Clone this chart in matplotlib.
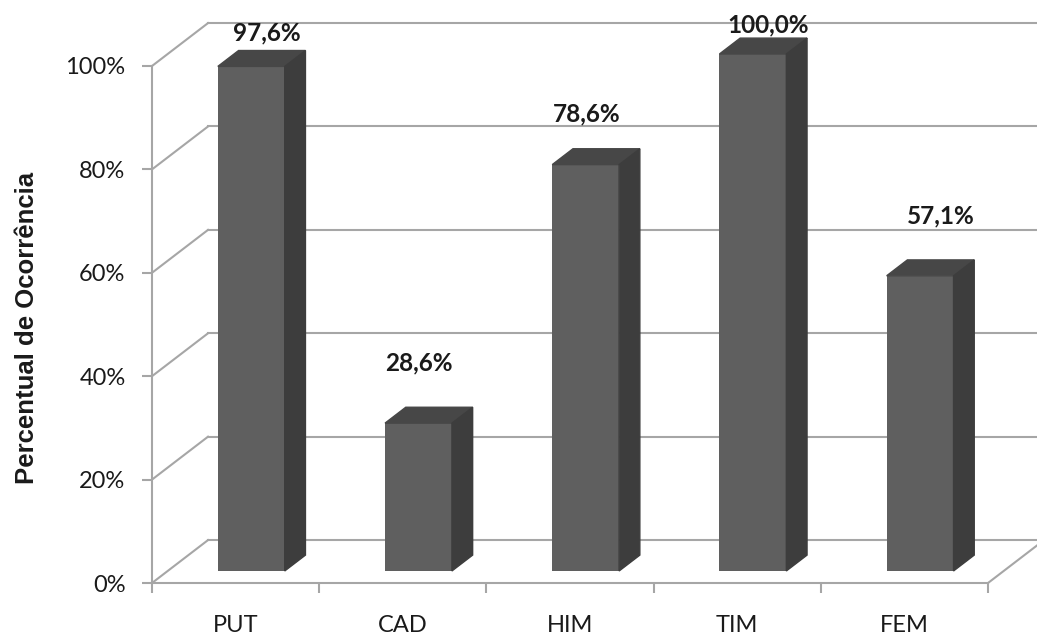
import matplotlib.pyplot as plt
from matplotlib.patches import Polygon

categories = ["PUT", "CAD", "HIM", "TIM", "FEM"]
values = [97.6, 28.6, 78.6, 100.0, 57.1]
value_labels = ["97,6%", "28,6%", "78,6%", "100,0%", "57,1%"]
y_ticks = [0, 20, 40, 60, 80, 100]
y_tick_labels = ["0%", "20%", "40%", "60%", "80%", "100%"]

# label placement relative to the centre of each bar's back top edge (pixels)
label_nudge = [(5, 18), (-10, 44), (-9, 35), (5, 13), (10, 44)]

# depth vector of the 3d box, in data units (categories, percent)
DX, DY = 0.335, 8.3
BAR_W = 0.4
BAR_FRONT = 0.28   # fraction of depth where the bar's front face sits
BAR_DEPTH = 0.37

GRID = "#a6a6a6"
FACE = "#5f5f5f"
TOP = "#474747"
SIDE = "#3d3d3d"
TXT = "#1a1a1a"

fig = plt.figure(figsize=(10.37, 6.37), dpi=100)
ax = fig.add_axes([152 / 1037, 54 / 637, 836 / 1037, 517 / 637])
ax.set_xlim(0, len(categories))
ax.set_ylim(0, 100)

n = len(categories)

# back wall gridlines and left wall diagonals
for t in y_ticks:
    ax.plot([DX, n + DX + 0.5], [t + DY, t + DY], color=GRID, lw=1.5,
            clip_on=False, zorder=1)
    ax.plot([0, DX], [t, t + DY], color=GRID, lw=1.5, clip_on=False, zorder=1)

# floor right edge
ax.plot([n, n + DX], [0, DY], color=GRID, lw=1.5, clip_on=False, zorder=1)

# bars: front face, top and side
ox, oy = BAR_FRONT * DX, BAR_FRONT * DY
bx, by = BAR_DEPTH * DX, BAR_DEPTH * DY
for i, v in enumerate(values):
    x0 = i + 0.5 - BAR_W / 2 + ox
    x1 = x0 + BAR_W
    ax.bar(x0, v, width=BAR_W, bottom=oy, align="edge", color=FACE,
           clip_on=False, zorder=3)
    top = Polygon([(x0, v + oy), (x1, v + oy), (x1 + bx, v + oy + by),
                   (x0 + bx, v + oy + by)], closed=True, color=TOP,
                  clip_on=False, zorder=3)
    side = Polygon([(x1, oy), (x1 + bx, oy + by), (x1 + bx, v + oy + by),
                    (x1, v + oy)], closed=True, color=SIDE,
                   clip_on=False, zorder=3)
    ax.add_patch(top)
    ax.add_patch(side)
    ax.annotate(value_labels[i], xy=(i + 0.5 + ox + bx / 2, v + oy + by),
                xytext=label_nudge[i], textcoords="offset pixels",
                ha="center", va="center", fontsize=17.5, fontweight="bold",
                family="Lato", color=TXT, annotation_clip=False, zorder=4)

# axes styling
for s in ["top", "right"]:
    ax.spines[s].set_visible(False)
for s in ["left", "bottom"]:
    ax.spines[s].set_color(GRID)
    ax.spines[s].set_linewidth(1.5)
    ax.spines[s].set_zorder(2)

ax.set_yticks(y_ticks)
ax.set_yticklabels(y_tick_labels, family="Lato", fontsize=17, color=TXT)
ax.tick_params(axis="y", length=7, width=1.5, color=GRID, pad=12)

ax.set_xticks(range(n + 1))
ax.set_xticklabels([])
ax.set_xticks([i + 0.5 for i in range(n)], minor=True)
ax.set_xticklabels(categories, minor=True, family="Lato", fontsize=17,
                   color=TXT)
ax.tick_params(axis="x", which="major", length=7, width=1.5, color=GRID)
ax.tick_params(axis="x", which="minor", length=0, pad=23)

fig.text(27 / 1037, 1 - 328 / 637, "Percentual de Ocorrência", rotation=90,
         ha="center", va="center", fontsize=18.5, fontweight="bold",
         family="Liberation Sans", color=TXT)

fig.savefig("out.png", dpi=100)
